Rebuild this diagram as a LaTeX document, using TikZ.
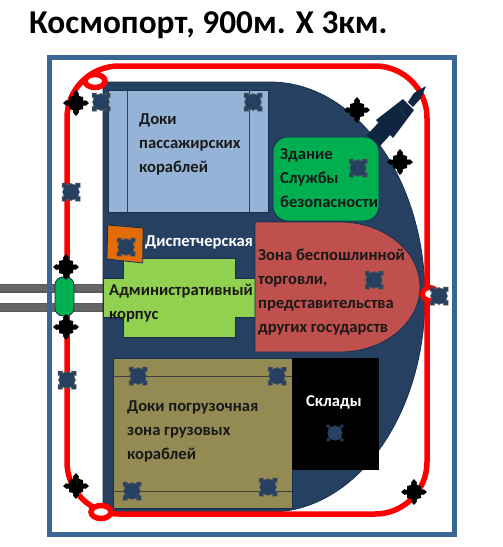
\documentclass[tikz,border=0pt]{standalone}
\usepackage{fontspec}
\setmainfont{Carlito}
\definecolor{navy}{HTML}{254061}
\definecolor{navyline}{HTML}{17304F}
\definecolor{rocketblue}{HTML}{10253F}
\definecolor{frameblue}{HTML}{3B6595}
\definecolor{lblue}{HTML}{95B3D7}
\definecolor{secgreen}{HTML}{00B050}
\definecolor{admgreen}{HTML}{92D050}
\definecolor{zonered}{HTML}{C0504D}
\definecolor{olive}{HTML}{948A54}
\definecolor{orangebox}{HTML}{E36C09}
\definecolor{roadgrey}{HTML}{666666}
\tikzset{
 x=1pt,y=-1pt,
 blk/.style={draw=navyline,line width=0.8pt},
 lab/.style={font=\bfseries\fontsize{16.6}{24}\selectfont,anchor=north west,align=left,inner sep=0pt,text=black!90},
 dock/.style={draw=black!75,line width=0.9pt},
 road/.style={fill=roadgrey,draw=black!65,line width=1.2pt},
 ring/.style={draw=red,line width=5.5pt,fill=white},
 nstar/.style={fill=navy,draw=black!65,line width=0.5pt},
 nshape/.pic={\path[pic actions]
   (-9,-9)--(-4.5,-9)--(-5,-7)--(-2,-7.5)--(0,-8.5)--(2,-7.5)--(5,-7)--(4.5,-9)--(9,-9)--(9,-4.5)--(7,-5)--(7.5,-2)--(8.5,0)--(7.5,2)--(7,5)--(9,4.5)--(9,9)--(4.5,9)--(5,7)--(2,7.5)--(0,8.5)--(-2,7.5)--(-5,7)--(-4.5,9)--(-9,9)--(-9,4.5)--(-7,5)--(-7.5,2)--(-8.5,0)--(-7.5,-2)--(-7,-5)--(-9,-4.5)--cycle;},
 bstar/.pic={\fill[black]
   (-13,0)--(-9.5,-3)--(-9.5,-2.5)--(-7,-2.5)--(-7,-6)--(-3,-7)--(-2.5,-9.5)--(-3,-9.5)--(0,-13)--(3,-9.5)--(2.5,-9.5)--(3,-7)--(7,-6)--(7,-2.5)--(9.5,-2.5)--(9.5,-3)--(13,0)--(9.5,3)--(9.5,2.5)--(7,2.5)--(7,6)--(3,7)--(2.5,9.5)--(3,9.5)--(0,13)--(-3,9.5)--(-2.5,9.5)--(-3,7)--(-7,6)--(-7,2.5)--(-9.5,2.5)--(-9.5,3)--cycle;}
}
\begin{document}
\begin{tikzpicture}
\useasboundingbox (0,0) rectangle (503,547);
\fill[white] (0,0) rectangle (503,547);
% roads
\fill[road] (-2,284.5) rectangle (104,292);
\fill[road] (-2,303.5) rectangle (104,311.5);
% frame
\draw[frameblue,line width=5pt] (49.5,57.5) rectangle (454.5,534.5);
% port body
\draw[fill=navy,draw=navyline,line width=0.8pt] (103,82) -- (270,82) arc[start angle=-90,end angle=90,x radius=155,y radius=215] -- (103,512) -- cycle;
% red track
\draw[red,line width=5.5pt,rounded corners=52pt] (67,66) rectangle (427,514);
% rocket
\fill[rocketblue] (379,122) -- (391,134) -- (379,147) -- (367,135) -- cycle;
\fill[rocketblue] (376,120) -- (403,99) -- (414,110) -- (393,138) -- cycle;
\fill[rocketblue] (408,102) -- (414,93) -- (426,86) -- (421,98) -- (413,107) -- cycle;
\draw[navy,line width=0.5pt] (399,108) -- (406,118);
% blocks
\draw[fill=lblue,blk] (108,90) rectangle (268,212);
\draw[dock] (127,90) -- (127,212);
\draw[dock] (249,90) -- (249,212);
\draw[fill=secgreen,blk,rounded corners=15pt] (273,137) rectangle (379,221);
\draw[fill=admgreen,blk] (103,278) -- (123,278) -- (123,258) -- (235,258) -- (235,278) -- (256,278) -- (256,317) -- (235,317) -- (235,337) -- (123,337) -- (123,317) -- (103,317) -- cycle;
\draw[fill=orangebox,blk] (107.7,225) -- (143,228) -- (142.7,263) -- (107,259) -- cycle;
\draw[fill=zonered,blk] (255,222) -- (340,222) arc[start angle=-90,end angle=90,x radius=80,y radius=65] -- (255,352) -- cycle;
\draw[fill=olive,blk] (113,358) rectangle (292,508);
\draw[dock] (113,376) -- (292,376);
\draw[dock] (113,491) -- (292,491);
\fill[black] (292,358) rectangle (379,470);
% capsule
\draw[fill=secgreen,blk,rounded corners=8pt] (55,277) rectangle (74,316);
% rings
\draw[ring] (95,81) ellipse[x radius=10,y radius=6.5];
\draw[ring] (101,512) ellipse[x radius=10,y radius=6.5];
\draw[ring,line width=5pt] (430,294) ellipse[x radius=7.5,y radius=6.5];
% stars
\foreach \p in {(76,103),(357,110),(400,162),(66,267),(66,327),(76,486),(414,492)} \pic at \p {bstar};
\foreach \p in {(101,102),(253,102),(71,192),(358,168),(126,247),(374,280),(439,296),(67,380),(138,376),(277,376),(132,491),(268,487)} \pic[nstar] at \p {nshape};
\pic[fill=navy,draw=black,line width=1.2pt] at (335,433) {nshape};
% text
\node[font=\bfseries\fontsize{33.3}{36}\selectfont,anchor=west,inner sep=0pt] (title) at (29,25) {Космопорт, 900м. Х 3км.};
\node[lab] (t1) at (139,114) {Доки\\пассажирских\\кораблей};
\node[lab] (t2) at (280,148) {Здание\\Службы\\безопасности};
\node[lab,text=white] (t3) at (145,236) {Диспетчерская};
\node[lab] (t4) at (109,284) {Административный\\корпус};
\node[lab] (t5) at (258,249) {Зона беспошлинной\\торговли,\\представительства\\других государств};
\node[lab] (t6) at (127,401) {Доки погрузочная\\зона грузовых\\кораблей};
\node[lab,text=white] (t7) at (306,395) {Склады};
\end{tikzpicture}
\end{document}
